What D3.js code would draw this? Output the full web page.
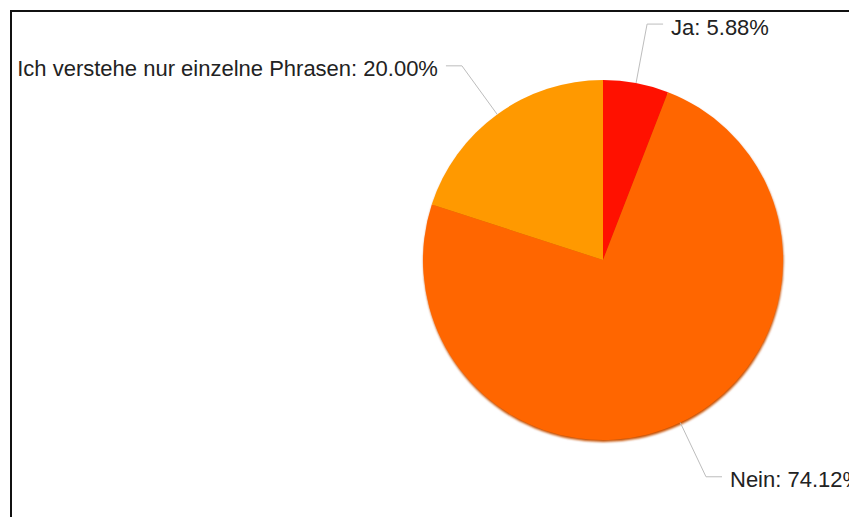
<!DOCTYPE html>
<html>
<head>
<meta charset="utf-8">
<script src="https://cdn.jsdelivr.net/npm/d3@7/dist/d3.min.js"></script>
<style>
  html, body { margin: 0; padding: 0; background: #fff; overflow: hidden; }
  svg { display: block; }
</style>
</head>
<body>
<svg id="chart" width="849" height="517"></svg>
<script>
// Survey answers and their shares (percent)
const categories = ["Ja", "Nein", "Ich verstehe nur einzelne Phrasen"];
const values = [5.88, 74.12, 20.00];
const colors = ["#ff1100", "#ff6600", "#ff9900"];

const W = 849, H = 517;
const cx = 603, cy = 260, radius = 180;
const elbowRadius = 240;   // where the leader line turns horizontal
const tailLen = 16;        // horizontal part of the leader line
const textGap = 8;

const svg = d3.select("#chart");

// frame around the chart area
svg.append("rect")
  .attr("x", 11).attr("y", 11)
  .attr("width", W + 20).attr("height", H + 20)
  .attr("fill", "none")
  .attr("stroke", "#111")
  .attr("stroke-width", 2);

const defs = svg.append("defs");
defs.append("filter").attr("id", "soft")
  .attr("x", "-10%").attr("y", "-10%").attr("width", "120%").attr("height", "120%")
  .append("feGaussianBlur").attr("stdDeviation", 1);

const data = categories.map((c, i) => ({ name: c, value: values[i], color: colors[i] }));

const pie = d3.pie().sort(null).value(d => d.value);
const arcs = pie(data);
const arc = d3.arc().innerRadius(0).outerRadius(radius);

const g = svg.append("g").attr("transform", `translate(${cx},${cy})`);

// soft rim below the pie
g.append("circle")
  .attr("cx", 0.5).attr("cy", 2).attr("r", radius)
  .attr("fill", "#c65000")
  .attr("filter", "url(#soft)");

g.selectAll("path.slice")
  .data(arcs)
  .join("path")
  .attr("class", "slice")
  .attr("d", arc)
  .attr("fill", d => d.data.color);

// leader lines and labels
const fmt = d3.format(".2f");
const pointAt = (a, r) => [Math.sin(a) * r, -Math.cos(a) * r];

const labels = svg.append("g").attr("transform", `translate(${cx},${cy})`);
arcs.forEach(d => {
  const mid = (d.startAngle + d.endAngle) / 2;
  const p0 = pointAt(mid, radius);
  const p1 = pointAt(mid, elbowRadius);
  const right = p1[0] >= 0;
  const p2 = [p1[0] + (right ? tailLen : -tailLen), p1[1]];

  labels.append("polyline")
    .attr("points", [p0, p1, p2].map(p => p.join(",")).join(" "))
    .attr("fill", "none")
    .attr("stroke", "#bdbdbd")
    .attr("stroke-width", 1);

  labels.append("text")
    .attr("x", p2[0] + (right ? textGap : -textGap))
    .attr("y", p2[1] + 10.5)
    .attr("text-anchor", right ? "start" : "end")
    .attr("font-family", "'Liberation Sans', Arial, sans-serif")
    .attr("font-size", 22)
    .attr("fill", "#222")
    .text(`${d.data.name}: ${fmt(d.data.value)}%`);
});
</script>
</body>
</html>
